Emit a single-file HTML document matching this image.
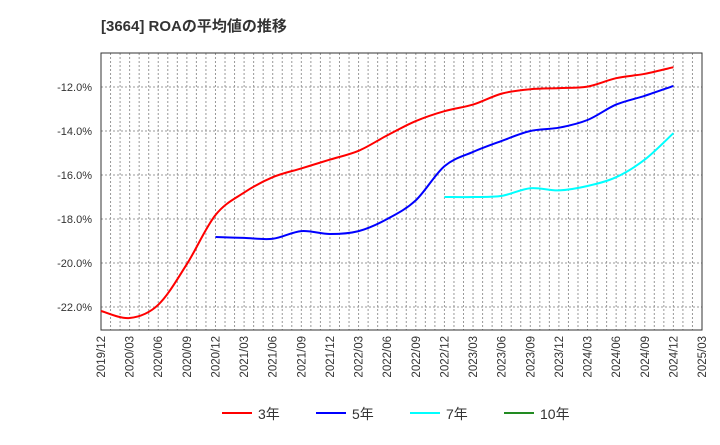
<!DOCTYPE html>
<html><head><meta charset="utf-8"><style>
body{margin:0;background:#fff;width:720px;height:440px;overflow:hidden}
svg{font-family:"Liberation Sans","Noto Sans CJK JP",sans-serif}
</style></head><body>
<svg id="c" width="720" height="440">
<text x="101" y="31" font-size="15" font-weight="bold" fill="#333">[3664]  ROAの平均値の推移</text>
<g id="grid"></g><g id="axes"></g><g id="series"></g>
<g id="legend"></g>
</svg>
<script>
const quarters=["2019/12","2020/03","2020/06","2020/09","2020/12","2021/03","2021/06","2021/09","2021/12","2022/03","2022/06","2022/09","2022/12","2023/03","2023/06","2023/09","2023/12","2024/03","2024/06","2024/09","2024/12","2025/03"];
const yTicks=[-12,-14,-16,-18,-20,-22];
const roa3=[-22.18,-22.5,-21.9,-20.05,-17.82,-16.8,-16.1,-15.7,-15.3,-14.9,-14.2,-13.55,-13.1,-12.8,-12.3,-12.1,-12.05,-11.98,-11.6,-11.4,-11.1];
const roa5=[null,null,null,null,-18.82,-18.86,-18.9,-18.55,-18.68,-18.55,-18.0,-17.15,-15.6,-14.95,-14.45,-14.0,-13.85,-13.5,-12.8,-12.4,-11.95];
const roa7=[null,null,null,null,null,null,null,null,null,null,null,null,-17.0,-17.0,-16.95,-16.6,-16.7,-16.5,-16.1,-15.3,-14.1];
const roa10=[];
const NS="http://www.w3.org/2000/svg";
const L=101,R=702,T=53,B=330;
const xq=i=>L+(R-L)*i/(quarters.length-1);
const yv=v=>87+(-12-v)*22;
function mk(tag,attrs,parent){const e=document.createElementNS(NS,tag);for(const k in attrs)e.setAttribute(k,attrs[k]);parent.appendChild(e);return e;}
const grid=document.getElementById('grid'),axes=document.getElementById('axes'),ser=document.getElementById('series'),leg=document.getElementById('legend');
mk('rect',{x:L,y:T,width:R-L,height:B-T,fill:'#fff'},grid);
for(let m=1;m<(quarters.length-1)*3;m++){const x=L+(R-L)*m/((quarters.length-1)*3);
 const g=mk('line',{x1:x,x2:x,y1:T,y2:B,stroke:'#999','stroke-dasharray':'2,2','stroke-width':1},grid);
 
 }
yTicks.forEach(v=>{const y=yv(v);
 const g=mk('line',{x1:L,x2:R,y1:y,y2:y,stroke:'#999','stroke-dasharray':'2,2'},grid);
 
 
 const t=mk('text',{x:92,y:y+4,'text-anchor':'end','font-size':11,fill:'#333'},axes);t.textContent=v.toFixed(1)+'%';
 
 });
quarters.forEach((q,i)=>{const x=xq(i);
 const t=mk('text',{transform:`translate(${x+4},${B+6}) rotate(-90)`,'text-anchor':'end','font-size':11.5,fill:'#333'},axes);t.textContent=q;
 
 });
const fr=mk('rect',{x:L,y:T,width:R-L,height:B-T,fill:'none',stroke:'#333'},axes);


function line(data,color,name){const pts=[];data.forEach((v,i)=>{if(v!=null)pts.push([xq(i),yv(v)]);});
 if(!pts.length)return;
 let d='M'+pts[0][0].toFixed(1)+','+pts[0][1].toFixed(1);
 for(let i=0;i<pts.length-1;i++){const p0=pts[i-1]||pts[i],p1=pts[i],p2=pts[i+1],p3=pts[i+2]||p2;
  const c1=[p1[0]+(p2[0]-p0[0])/6,p1[1]+(p2[1]-p0[1])/6],c2=[p2[0]-(p3[0]-p1[0])/6,p2[1]-(p3[1]-p1[1])/6];
  d+=` C${c1[0].toFixed(1)},${c1[1].toFixed(1)} ${c2[0].toFixed(1)},${c2[1].toFixed(1)} ${p2[0].toFixed(1)},${p2[1].toFixed(1)}`;}
 const p=mk('path',{d:d,fill:'none',stroke:color,'stroke-width':2,'stroke-linejoin':'round'},ser);
 
 }
line(roa3,'#f00','line-3y');line(roa5,'#00f','line-5y');line(roa7,'#0ff','line-7y');line(roa10,'#228b22','line-10y');
const items=[["3年","#f00",222],["5年","#00f",316],["7年","#0ff",410],["10年","#228b22",504]];
items.forEach(([lab,c,x])=>{
 const g=mk('g',{},leg);
 
 
 mk('line',{x1:x,x2:x+30,y1:413,y2:413,stroke:c,'stroke-width':2},g);
 const t=mk('text',{x:x+36,y:419,'font-size':14,fill:'#333'},g);t.textContent=lab;});
</script>
</body></html>
